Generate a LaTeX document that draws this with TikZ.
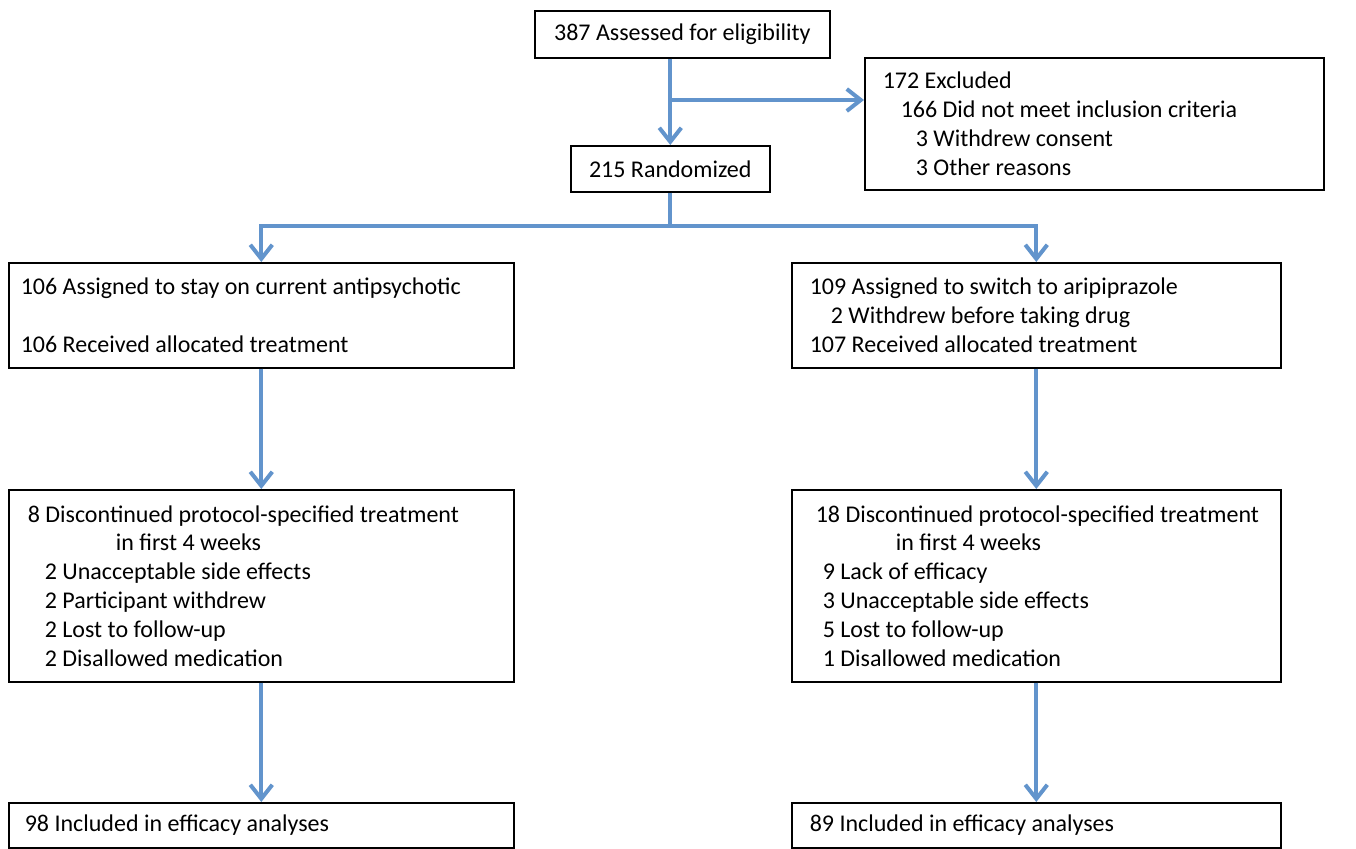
\documentclass[tikz,border=0pt]{standalone}
\usepackage{fontspec}
\setmainfont{Carlito}
\usetikzlibrary{arrows.meta}
\definecolor{flowblue}{RGB}{98,148,204}
\begin{document}
\begin{tikzpicture}[x=0.5pt,y=0.5pt,
        box/.style = {draw,line width=0.8pt,anchor=north west,align=flush left,
                      font=\fontsize{12}{14.4}\selectfont,inner ysep=0pt},
        link/.style = {flowblue,line width=2pt},
        arrow/.style = {link,-{Straight Barb[length=7pt,width=11pt]}}]
    \useasboundingbox (0,0) rectangle (1356,-848);

    % enrollment
    \node[box,align=center,inner xsep=0pt,minimum width=147.5pt,minimum height=23.5pt]
        (assess) at (534,-10) {387 Assessed for eligibility};
    \node[box,inner xsep=9pt,text width=211.5pt,minimum height=66pt]
        (excl) at (864,-57) {172 Excluded\\
            \hspace*{9pt}166 Did not meet inclusion criteria\\
            \hspace*{16.5pt}3 Withdrew consent\\
            \hspace*{16.5pt}3 Other reasons};
    \node[box,align=center,inner xsep=0pt,minimum width=99.5pt,minimum height=23pt]
        (rand) at (570,-145) {215 Randomized};

    % allocation
    \node[box,inner xsep=6pt,text width=240.5pt,minimum height=52.5pt]
        (assignL) at (8,-262) {106 Assigned to stay on current antipsychotic\\[14.4pt]
            106 Received allocated treatment};
    \node[box,inner xsep=9pt,text width=226.5pt,minimum height=52.5pt]
        (assignR) at (791,-262) {109 Assigned to switch to aripiprazole\\
            \hspace*{10.5pt}2 Withdrew before taking drug\\
            107 Received allocated treatment};

    % follow-up
    \node[box,inner xsep=9.5pt,text width=233.5pt,minimum height=96pt]
        (discL) at (8,-489) {8 Discontinued protocol-specified treatment\\
            \hspace*{44pt}in first 4 weeks\\
            \hspace*{8.5pt}2 Unacceptable side effects\\
            \hspace*{8.5pt}2 Participant withdrew\\
            \hspace*{8.5pt}2 Lost to follow-up\\
            \hspace*{8.5pt}2 Disallowed medication};
    \node[box,inner xsep=9pt,text width=226.5pt,minimum height=96pt]
        (discR) at (791,-489) {\hspace*{3pt}18 Discontinued protocol-specified treatment\\
            \hspace*{43pt}in first 4 weeks\\
            \hspace*{6.5pt}9 Lack of efficacy\\
            \hspace*{6.5pt}3 Unacceptable side effects\\
            \hspace*{6.5pt}5 Lost to follow-up\\
            \hspace*{6.5pt}1 Disallowed medication};

    % analysis
    \node[box,inner xsep=8pt,text width=236.5pt,minimum height=22.5pt]
        (inclL) at (8,-802) {98 Included in efficacy analyses};
    \node[box,inner xsep=9pt,text width=226.5pt,minimum height=22.5pt]
        (inclR) at (791,-802) {89 Included in efficacy analyses};

    % connectors
    \coordinate (exclrow) at (0,-100);
    \draw[arrow] (rand.north |- assess.south) -- (rand.north);
    \draw[arrow] (rand.north |- exclrow) -- (excl.west |- exclrow);
    \draw[link] (rand.south) -- ++(0,-33) coordinate (randsplit);
    \draw[arrow] (randsplit) -| (assignL.north);
    \draw[arrow] (randsplit) -| (assignR.north);
    \draw[arrow] (assignL.south) -- (discL.north);
    \draw[arrow] (assignR.south) -- (discR.north);
    \draw[arrow] (discL.south) -- (inclL.north);
    \draw[arrow] (discR.south) -- (inclR.north);
\end{tikzpicture}
\end{document}
